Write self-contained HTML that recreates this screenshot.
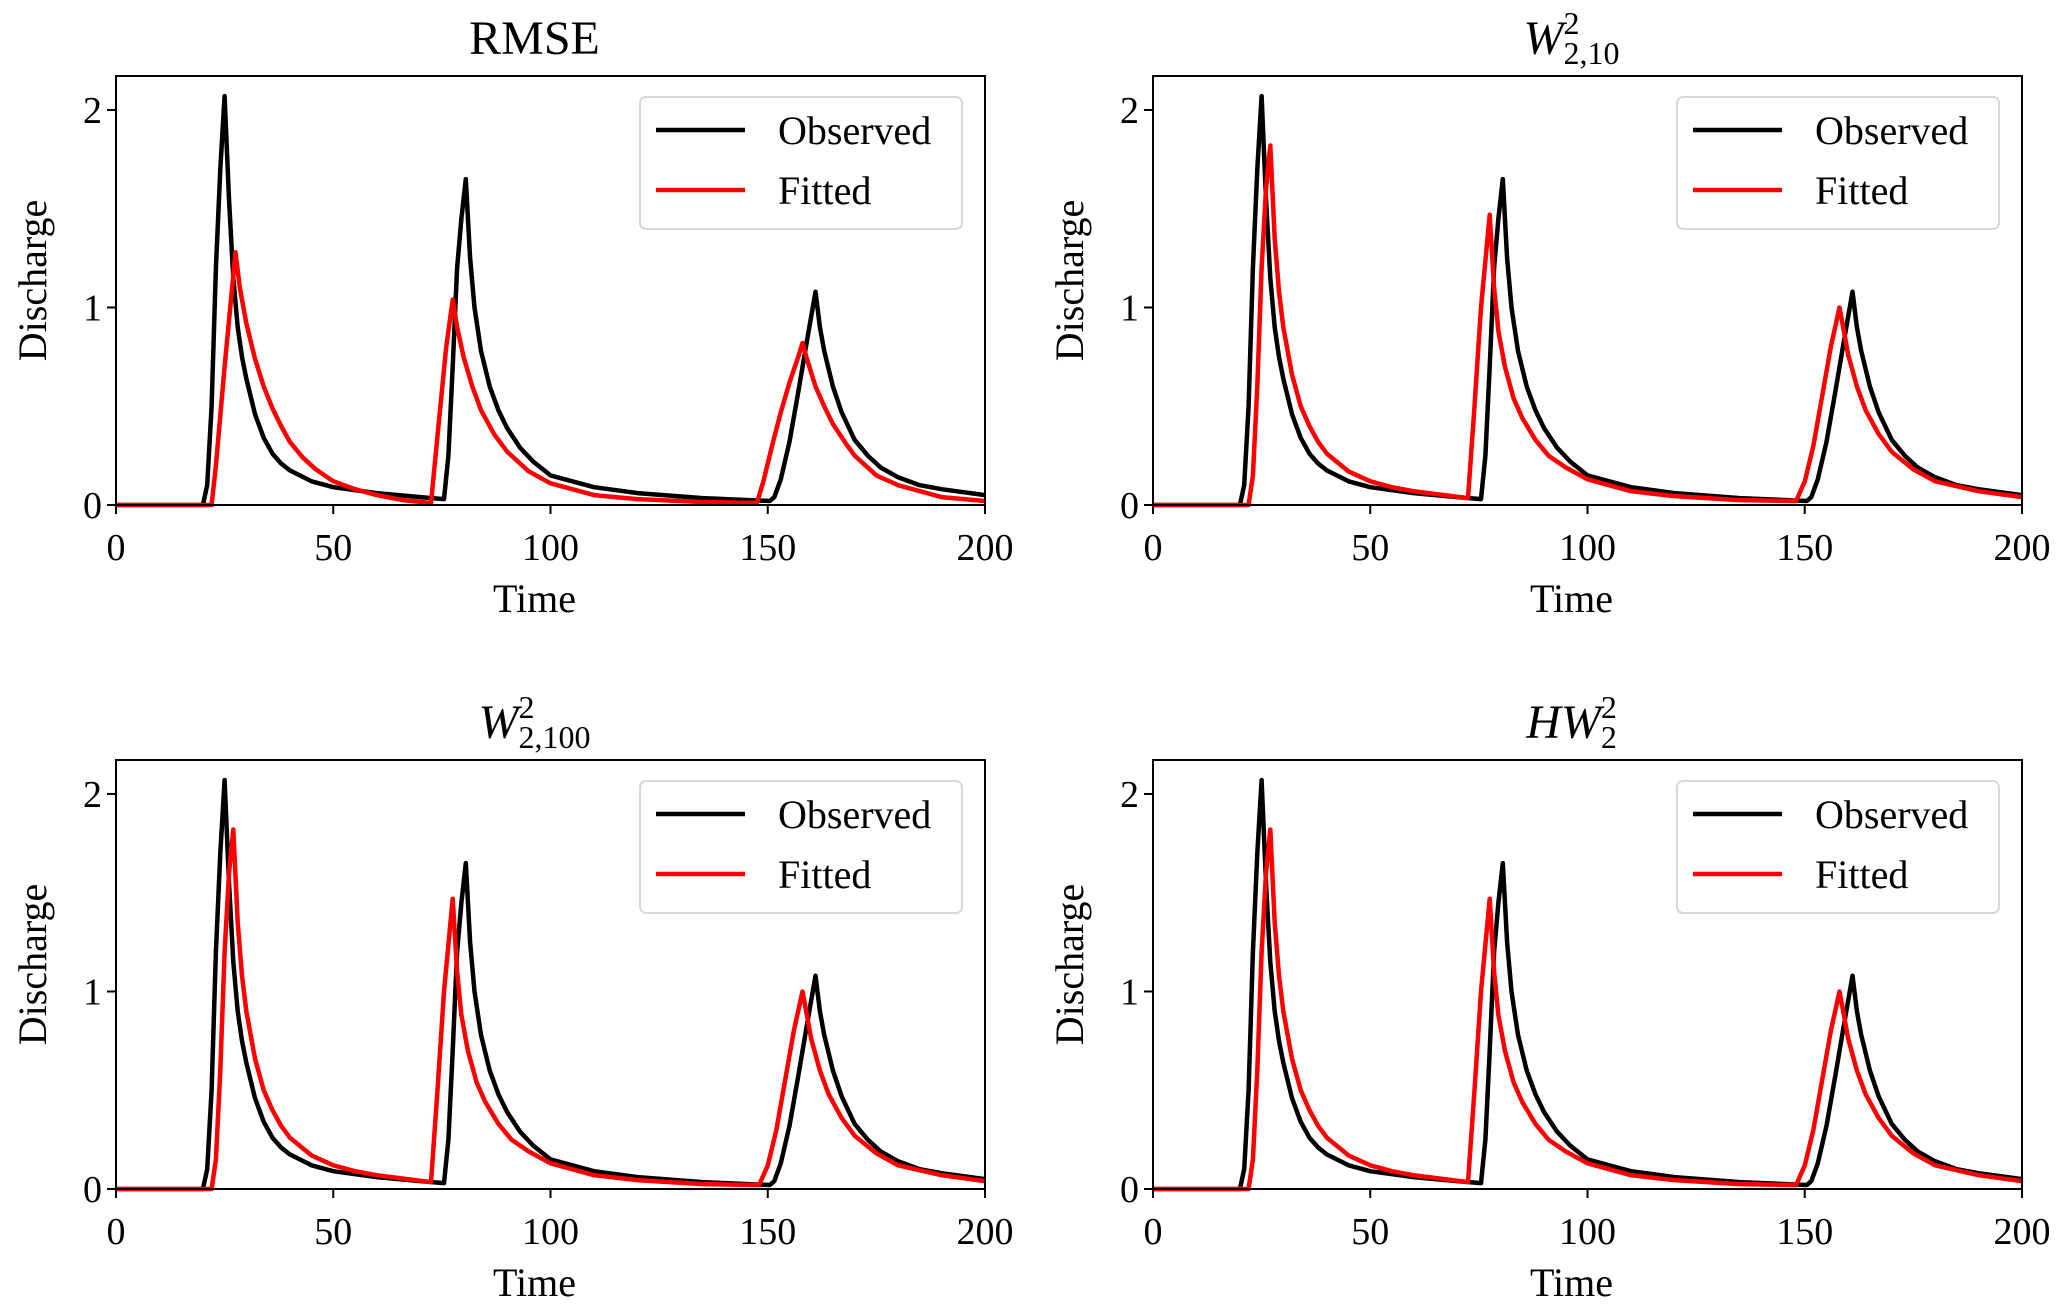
<!DOCTYPE html>
<html><head><meta charset="utf-8"><style>
html,body{margin:0;padding:0;background:#fff}
svg{display:block;font-family:"Liberation Serif","DejaVu Serif",serif}
</style></head><body>
<svg id="fig" width="2067" height="1307" viewBox="0 0 2067 1307" xmlns="http://www.w3.org/2000/svg"></svg>
<script>
// Data
const obsT = [0,20,21,22,23,24,25,26,27,28,29,30,32,34,36,38,40,45,50,60,70,75.5,76.5,77.5,78.5,79.5,80.5,81.5,82.5,84,86,88,90,93,96,100,110,120,135,150.5,151.5,153,155,157,159,161,162,163,165,167,170,173,176,180,185,190,200];
const obsV = [0,0,0.1,0.5,1.2,1.7,2.07,1.55,1.15,0.9,0.75,0.64,0.46,0.34,0.26,0.21,0.175,0.12,0.09,0.06,0.04,0.03,0.25,0.7,1.2,1.45,1.65,1.25,1.0,0.78,0.6,0.48,0.39,0.29,0.22,0.15,0.09,0.06,0.035,0.02,0.04,0.13,0.32,0.57,0.83,1.08,0.9,0.78,0.6,0.47,0.33,0.25,0.19,0.14,0.1,0.08,0.05];
const rmseT = [0,22,23,25,27.5,28.5,30,32,34,36,38,40,43,46,50,55,60,66,72.5,74,76,77.5,78.5,80,82,84,87,90,95,100,110,120,135,147.5,149,151,153,155,157,158,159,161,163,165,168,170,175,180,190,200];
const rmseV = [0,0,0.2,0.7,1.28,1.1,0.92,0.74,0.6,0.49,0.4,0.32,0.24,0.18,0.12,0.08,0.05,0.025,0.01,0.35,0.8,1.04,0.9,0.75,0.6,0.48,0.36,0.27,0.17,0.11,0.05,0.03,0.015,0.01,0.12,0.3,0.47,0.62,0.75,0.82,0.74,0.6,0.5,0.41,0.31,0.25,0.15,0.1,0.04,0.02];
const wT = [0,22,23,24,25,26,27,28,29,30,32,34,36,38,40,45,50,55,60,72.5,74,75.5,77.5,78.5,79.5,81,83,85,88,91,95,100,110,120,135,148,150,152,154,156,158,159,160,162,164,167,170,175,180,190,200];
const wV = [0,0,0.15,0.6,1.2,1.6,1.82,1.35,1.08,0.9,0.66,0.5,0.4,0.32,0.26,0.17,0.12,0.09,0.07,0.035,0.5,1.0,1.47,1.1,0.88,0.7,0.54,0.44,0.33,0.25,0.19,0.13,0.07,0.045,0.025,0.02,0.12,0.3,0.55,0.8,1.0,0.88,0.76,0.6,0.48,0.36,0.27,0.18,0.12,0.07,0.04];
const xTicks = [0,50,100,150,200];
const yTicks = [0,1,2];
const legendLabels = ["Observed","Fitted"];

const NS="http://www.w3.org/2000/svg";
const fig=document.getElementById('fig');
function mk(tag,attrs,parent){const e=document.createElementNS(NS,tag);for(const k in attrs)e.setAttribute(k,attrs[k]);(parent||fig).appendChild(e);return e;}

const panels=[
 {x:116,y:76,title:'rmse',fit:[rmseT,rmseV]},
 {x:1153,y:76,title:'w10',fit:[wT,wV]},
 {x:116,y:760,title:'w100',fit:[wT,wV]},
 {x:1153,y:760,title:'hw',fit:[wT,wV]}
];
const W=869,H=429,YMAX=2.172;

panels.forEach((p,i)=>{
  const g=mk('g',{});
  
  
  const sx=t=>p.x+W*t/200, sy=v=>p.y+H-H*v/YMAX;
  const cx=p.x+W/2-16, by=p.y-22;
  const tt=mk('text',{x:cx,y:by,'font-size':48,'text-anchor':'middle'},g);
  
  
  if(p.title==='rmse'){tt.textContent='RMSE';}
  else if(p.title==='hw'){
    tt.innerHTML='<tspan font-style="italic">HW</tspan><tspan font-size="32" dy="-20">2</tspan><tspan font-size="32" dx="-16" dy="30">2</tspan>';
  } else {
    const sub=p.title==='w10'?'2,10':'2,100';
    tt.innerHTML='<tspan font-style="italic">W</tspan><tspan font-size="32" dy="-20">2</tspan><tspan font-size="32" dx="-16" dy="30">'+sub+'</tspan>';
  }
  const line=(T,V,color,name)=>{
    let d='';T.forEach((t,k)=>{d+=(k?'L':'M')+sx(t).toFixed(1)+' '+sy(V[k]).toFixed(1);});
    const e=mk('path',{d:d,fill:'none',stroke:color,'stroke-width':4.5,'stroke-linejoin':'round'},g);
    
    
  };
  line(obsT,obsV,'#000','observed-line');
  line(p.fit[0],p.fit[1],'#f00','fitted-line');
  const fr=mk('rect',{x:p.x,y:p.y,width:W,height:H,fill:'none',stroke:'#000','stroke-width':2},g);
  
  
  xTicks.forEach(t=>{
    mk('line',{x1:sx(t),x2:sx(t),y1:p.y+H,y2:p.y+H+9,stroke:'#000','stroke-width':2},g);
    const l=mk('text',{x:sx(t),y:p.y+H+55,'font-size':38,'text-anchor':'middle'},g);
    
    
    l.textContent=t;
  });
  yTicks.forEach(v=>{
    mk('line',{x1:p.x-9,x2:p.x,y1:sy(v),y2:sy(v),stroke:'#000','stroke-width':2},g);
    const l=mk('text',{x:p.x-14,y:sy(v)+13,'font-size':38,'text-anchor':'end'},g);
    
    
    l.textContent=v;
  });
  const xl=mk('text',{x:p.x+W/2-16,y:p.y+H+107,'font-size':40,'text-anchor':'middle'},g);
  
  
  xl.textContent='Time';
  const yx=p.x-70, yy=p.y+H/2-10;
  const yl=mk('text',{x:yx,y:yy,'font-size':40,'text-anchor':'middle',transform:`rotate(-90 ${yx} ${yy})`},g);
  
  
  yl.textContent='Discharge';
  const lg=mk('g',{},g);
  
  
  const lx=p.x+524, ly=p.y+21;
  mk('rect',{x:lx,y:ly,width:322,height:132,rx:6,fill:'#fff',stroke:'#d8d8d8','stroke-width':2},lg);
  ['#000','#f00'].forEach((c,k)=>{
    const yy2=ly+33+k*60;
    const ln=mk('line',{x1:lx+16,x2:lx+105,y1:yy2,y2:yy2,stroke:c,'stroke-width':4.5},lg);
    
    
    const tx=mk('text',{x:lx+138,y:yy2+14,'font-size':40},lg);
    
    
    tx.textContent=legendLabels[k];
  });
});
</script>
</body></html>
